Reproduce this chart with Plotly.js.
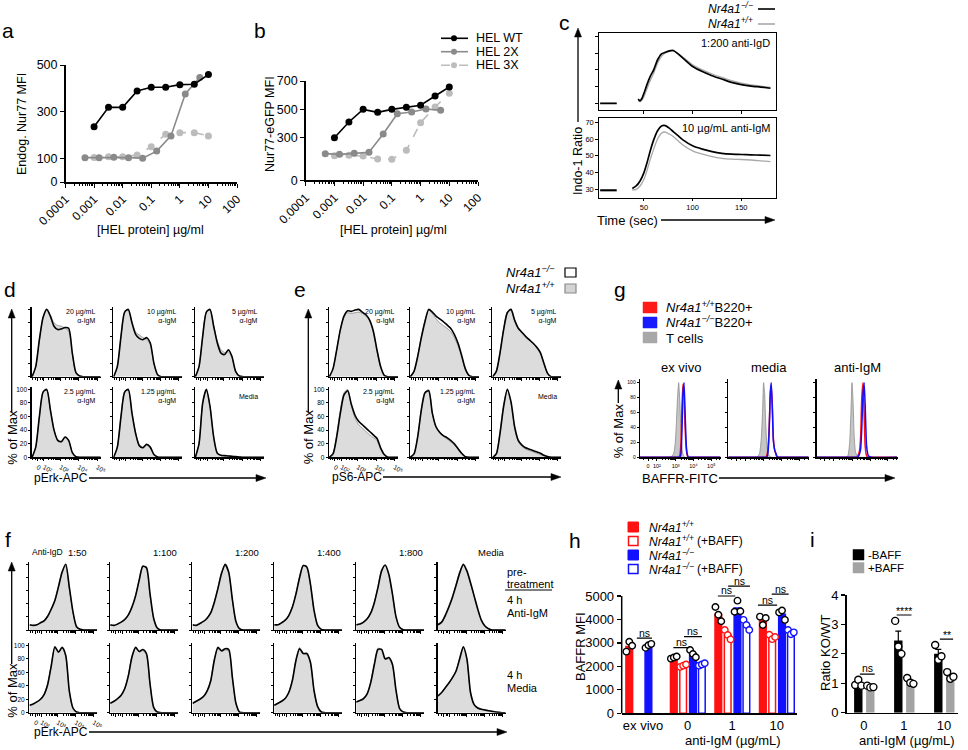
<!DOCTYPE html>
<html>
<head>
<meta charset="utf-8">
<script src="https://cdn.plot.ly/plotly-3.0.1.min.js"></script>
<style>html,body{margin:0;padding:0;background:#fff}#chart{width:968px;height:750px}</style>
</head>
<body>
<div id="chart"></div>
<script>
// ================= DATA =================
// a, b : HEL dose response
const helConcWT = [0.001, 0.0032, 0.01, 0.032, 0.1, 0.32, 1, 3.2, 10];
const helConc2X = [0.00048, 0.0015, 0.0049, 0.016, 0.05, 0.155, 0.49, 1.55, 5.0];
const helConc3X = [0.001, 0.0032, 0.01, 0.032, 0.1, 0.32, 1, 3.2, 10];
const helTickVals = [0.0001, 0.001, 0.01, 0.1, 1, 10, 100];
const helTickText = ['0.0001', '0.001', '0.01', '0.1', '1', '10', '100'];
const nur77WT = [236, 319, 319, 389, 405, 405, 416, 418, 459];
const nur77_2X = [104, 104, 106, 104, 102, 132, 197, 376, 447];
const nur77_3X = [105, 108, 108, 115, 151, 204, 211, 211, 197];
const gfpWT = [300, 411, 500, 479, 500, 515, 529, 594, 658];
const gfp2X = [188, 183, 190, 197, 326, 469, 481, 503, 493];
const gfp3X = [173, 176, 171, 150, 148, 211, 406, 517, 613];
const helNames = ['HEL WT', 'HEL 2X', 'HEL 3X'];

// c : calcium flux (Indo-1 ratio vs time)
const cTimeTop = [5, 22, 23, 44, 46, 48, 50, 53, 56, 60, 64, 68, 72, 76, 80, 85, 90, 100, 110, 120, 130, 140, 150, 160, 170, 180];
const cIgD_KO = [30, 30, null, 32.5, 31.5, 33, 36, 41, 45.5, 50, 56, 59.5, 60.5, 61.3, 61.5, 59.5, 57, 52, 49, 46.5, 44.5, 42.5, 41.2, 40.3, 39.7, 39];
const cIgD_WT = [30, 30, null, 31.5, 31, 32, 34, 38.5, 43, 48, 54, 58, 60, 61, 61.3, 59.8, 57.5, 53, 50, 47.5, 45.5, 43.5, 42, 41, 40.2, 39.5];
const cTimeBot = [5, 22, 23, 38, 42, 46, 50, 53, 56, 60, 64, 68, 72, 76, 80, 85, 90, 100, 110, 120, 130, 140, 150, 160, 170, 180];
const cIgM_KO = [29.5, 29.5, null, 30.5, 32, 35, 40, 45.5, 52, 59.5, 65, 67.8, 68, 66.5, 64.5, 62, 59.5, 56, 54, 52.5, 51.5, 51, 50.8, 50.6, 50.4, 50.2];
const cIgM_WT = [28.8, 28.8, null, 29.5, 30, 32, 36, 41, 47, 54, 60, 63.5, 64.2, 63, 61.5, 59, 56.5, 53, 51, 49.5, 48.5, 48, 47.8, 47.5, 47, 46.5];

// d, e, f : flow histograms (% of max) on a shared channel grid (log-like units)
const histGrid = [1.45, 1.65, 1.85, 2.05, 2.25, 2.45, 2.65, 2.85, 3.05, 3.25, 3.45, 3.65, 3.85, 4.05, 4.25, 4.45, 4.65, 4.85, 5.05, 5.2];
const histTickVals = [1.75, 2.1, 3, 4, 5];
const histTickText = ['0', '10²', '10³', '10⁴', '10⁵'];
const pctTicks = [0, 20, 40, 60, 80, 100];

const dLabels = ['20 µg/mL<br>α-IgM', '10 µg/mL<br>α-IgM', '5 µg/mL<br>α-IgM', '2.5 µg/mL<br>α-IgM', '1.25 µg/mL<br>α-IgM', 'Media'];
const dKO20 = [0,15,55,88,100,90,75,70,71,73,72,35,6,1,0,0,0,0,0,0];
const dWT20 = [0,15,55,88,100,91,80,76,75,72,68,33,5,1,0,0,0,0,0,0];
const dKO10 = [0,15,60,96,100,80,63,57,55,58,50,20,3,0,0,0,0,0,0,0];
const dWT10 = [0,15,60,96,99,81,66,62,58,55,48,19,3,0,0,0,0,0,0,0];
const dKO5 = [0,15,60,96,100,75,50,35,33,40,30,8,1,0,0,0,0,0,0,0];
const dWT5 = [0,15,60,96,99,76,53,40,36,37,28,7,1,0,0,0,0,0,0,0];
const dKO2p5 = [0,15,60,96,100,70,40,25,23,30,25,7,1,0,0,0,0,0,0,0];
const dWT2p5 = [0,15,60,96,99,70,41,26,24,29,24,7,1,0,0,0,0,0,0,0];
const dKO1p25 = [0,15,60,96,100,65,35,17,14,19,15,4,0.5,0,0,0,0,0,0,0];
const dWT1p25 = [0,15,61,97,99,66,36,19,15,18,14,4,0.5,0,0,0,0,0,0,0];
const dKOmed = [0,20,80,100,75,30,6,3,2.5,2,1.5,1,0.5,0,0,0,0,0,0,0];
const dWTmed = [0,20,80,99,74,29,6,2.5,2,1.5,1,0.5,0.3,0,0,0,0,0,0,0];

const eKO20 = [0,12,40,70,90,98,97,99,100,96,92,84,68,40,15,2,0,0,0,0];
const eWT20 = [0,12,40,70,89,95,94,95,96,94,90,83,66,38,14,2,0,0,0,0];
const eKO10 = [0,8,30,58,82,100,96,90,86,82,77,72,63,50,32,12,2,0,0,0];
const eWT10 = [0,8,31,60,84,99,94,86,80,76,72,67,58,46,29,11,2,0,0,0];
const eKO5 = [0,8,35,70,95,100,84,72,66,60,55,50,44,36,20,5,0,0,0,0];
const eWT5 = [0,8,36,72,96,99,83,71,65,59,54,49,43,35,19,5,0,0,0,0];
const eKO2p5 = [0,5,30,65,92,98,78,62,53,48,43,38,33,28,14,4,0,0,0,0];
const eWT2p5 = [0,6,33,70,95,100,76,58,48,43,38,33,29,25,12,3,0,0,0,0];
const eKO1p25 = [0,5,30,70,95,98,65,45,37,32,29,25,20,13,6,1,0,0,0,0];
const eWT1p25 = [0,5,31,71,96,100,64,44,36,31,27,23,18,12,5,1,0,0,0,0];
const eKOmed = [0,5,35,75,100,82,45,25,18,14,12,10,8,6,3,1,0,0,0,0];
const eWTmed = [0,6,38,78,99,80,43,23,16,12,10,8,6,4,2,1,0,0,0,0];

const fColTitles = ['1:100', '1:200', '1:400', '1:800', 'Media'];
const fTopKO50 = [8,7,8,11,14,21,32,45,66,88,100,65,28,5,1,0,0,0,0,0];
const fTopWT50 = [7,7,8,11,15,22,33,47,68,90,97,62,26,5,1,0,0,0,0,0];
const fTopKO100 = [8,7,9,12,16,23,35,52,76,97,95,55,18,3,0,0,0,0,0,0];
const fTopWT100 = [7,7,9,12,17,24,37,54,78,98,93,52,17,3,0,0,0,0,0,0];
const fTopKO200 = [8,7,10,13,18,26,42,63,86,100,88,47,13,2,0,0,0,0,0,0];
const fTopWT200 = [7,7,10,13,19,27,44,65,88,98,86,45,12,2,0,0,0,0,0,0];
const fTopKO400 = [8,8,11,15,22,35,55,80,98,96,70,30,7,1,0,0,0,0,0,0];
const fTopWT400 = [7,8,11,15,23,36,57,82,99,94,68,28,6,1,0,0,0,0,0,0];
const fTopKO800 = [8,9,12,17,26,42,65,90,99,85,55,20,4,0.5,0,0,0,0,0,0];
const fTopWT800 = [7,9,12,17,27,43,67,92,98,83,53,19,4,0.5,0,0,0,0,0,0];
const fTopKOmed = [8,12,22,35,50,68,87,100,90,72,52,32,15,6,2,0,0,0,0,0];
const fTopWTmed = [9,13,24,37,52,70,89,99,88,70,50,30,14,5,2,0,0,0,0,0];
const fBotKO50 = [11,13,16,20,27,42,70,98,90,97,85,32,7,1,0,0,0,0,0,0];
const fBotWT50 = [11,13,16,20,28,44,72,97,91,96,84,31,7,1,0,0,0,0,0,0];
const fBotKO100 = [14,17,21,26,36,55,83,97,91,94,88,43,8,1,0,0,0,0,0,0];
const fBotWT100 = [14,17,21,27,37,57,85,96,90,92,86,41,8,1,0,0,0,0,0,0];
const fBotKO200 = [14,17,20,24,32,47,78,97,92,95,94,53,14,1,0,0,0,0,0,0];
const fBotWT200 = [14,17,20,25,33,49,80,95,91,93,92,52,13,1,0,0,0,0,0,0];
const fBotKO400 = [11,14,17,21,30,48,78,95,88,88,75,33,9,1,0,0,0,0,0,0];
const fBotWT400 = [11,14,17,22,31,50,80,97,87,86,73,32,9,1,0,0,0,0,0,0];
const fBotKO800 = [16,18,21,28,45,72,94,94,80,82,72,33,6,1,0,0,0,0,0,0];
const fBotWT800 = [16,18,22,29,47,74,96,93,79,80,70,32,6,1,0,0,0,0,0,0];
const fBotKOmed = [25,30,37,44,52,62,80,98,80,30,12,7,5,4,3,2,1,0.5,0,0];
const fBotWTmed = [24,30,37,44,53,63,82,97,78,29,12,7,5,4,3,2,1,0.5,0,0];

// g : BAFFR histograms
const gGrid = [1.0, 2.6, 2.75, 2.85, 2.92, 2.98, 3.04, 3.1, 3.17, 3.24, 3.3, 3.36, 3.41, 3.47, 3.53, 3.6, 3.66, 3.72, 3.8, 3.9, 4.05, 5.5];
const gTickVals = [1.45, 1.95, 3, 4, 5];
const gTitles = ['ex vivo', 'media', 'anti-IgM'];
const gExT  = [0,0,1,3,8,20,45,78,100,72,32,11,4,1,0,0,0,0,0,0,0,0];
const gExWT = [0,0,0,0,0,0,0,0,0,3,20,70,98,85,40,10,2,0,0,0,0,0];
const gExKO = [0,0,0,0,0,0,0,0,0,0,5,40,85,100,60,15,3,0,0,0,0,0];
const gMdT  = [0,0,5,25,60,100,85,45,15,5,2,1,0.5,0,0,0,0,0,0,0,0,0];
const gMdWT = [0,0,0,0,0,0,0,0,3,15,45,85,97,70,25,10,5,1,0,0,0,0];
const gMdKO = [0,0,0,0,0,0,0,0,0,10,40,88,100,65,22,10,6,2,0,0,0,0];
const gAmT  = [0,0,2,20,60,100,75,30,8,3,1,0,0,0,0,0,0,0,0,0,0,0];
const gAmWT = [0,0,0,0,0,0,0,0,0,0,2,5,10,30,80,100,60,15,2,0,0,0];
const gAmKO = [0,0,0,0,0,0,0,0,0,0,0,2,5,12,40,85,100,70,15,2,0,0];

// h : BAFFR MFI
const hGroups = ['ex vivo', '0', '1', '10'];
const hTicks = [0, 1000, 2000, 3000, 4000, 5000];
const hWT = [2850, 2380, 4210, 3980];
const hWTpts = [[2630, 3050, 2880], [2330, 2380, 2420], [4530, 4200, 3920], [4120, 3760, 4060]];
const hWTBAFF = [null, 2030, 3350, 3250];
const hWTBAFFpts = [[], [1980, 2030, 2080], [3550, 3340, 3150], [3350, 3160, 3250]];
const hKO = [2900, 2540, 4490, 4220];
const hKOpts = [[2790, 2900, 2960], [2700, 2530, 2390], [4330, 4800, 4350], [4300, 4380, 3980]];
const hKOBAFF = [null, 2080, 3760, 3460];
const hKOBAFFpts = [[], [2030, 2080, 2130], [3980, 3760, 3550], [3550, 3370, 3450]];

// i : ratio KO/WT
const iGroups = ['0', '1', '10'];
const iMinus = [0.99, 2.45, 2.0];
const iMinusSEM = [0.07, 0.32, 0.15];
const iMinusPts = [[0.94, 1.12, 0.92], [3.12, 2.25, 2.0], [2.3, 1.8, 1.92]];
const iPlus = [0.88, 1.06, 1.25];
const iPlusSEM = [0.03, 0.05, 0.07];
const iPlusPts = [[0.92, 0.86, 0.87], [1.18, 1.02, 0.98], [1.38, 1.15, 1.22]];

// ================= FIGURE =================
const W = 968, H = 750;
const FONT = 'Arial, "Liberation Sans", Helvetica, sans-serif';
const px = v => v / W;
const py = v => 1 - v / H;
const traces = [];
const L = {width: W, height: H, margin: {l: 0, r: 0, t: 0, b: 0, pad: 0},
  paper_bgcolor: '#ffffff', plot_bgcolor: 'rgba(0,0,0,0)', showlegend: false,
  hovermode: false, font: {family: FONT, color: '#000'}, annotations: [], shapes: []};

let nAx = 0;
function axes(l, t, r, b, xo, yo) {
  nAx++;
  const s = nAx === 1 ? '' : String(nAx);
  const base = {showline: true, linecolor: '#000', linewidth: 1.2, ticks: 'outside', tickcolor: '#000',
    tickwidth: 1, ticklen: 3, showgrid: false, zeroline: false, fixedrange: true,
    tickfont: {family: FONT, size: 7, color: '#000'}};
  L['xaxis' + s] = Object.assign({}, base, {domain: [px(l), px(r)], anchor: 'y' + s}, xo);
  L['yaxis' + s] = Object.assign({}, base, {domain: [py(b), py(t)], anchor: 'x' + s}, yo);
  return {xaxis: 'x' + s, yaxis: 'y' + s};
}
function txt(x, y, s, size, o) {
  L.annotations.push(Object.assign({xref: 'paper', yref: 'paper', x: px(x), y: py(y), text: s,
    showarrow: false, xanchor: 'center', yanchor: 'middle',
    font: {family: FONT, size: size, color: '#000'}}, o || {}));
}
function seg(x0, y0, x1, y1, color, width, dash) {
  L.shapes.push({type: 'line', xref: 'paper', yref: 'paper', x0: px(x0), y0: py(y0), x1: px(x1), y1: py(y1),
    line: {color: color || '#000', width: width || 1.2, dash: dash || 'solid'}});
}
function arrowUp(x, yTail, yHead) {
  seg(x, yTail, x, yHead + 5, '#000', 1.3);
  L.shapes.push({type: 'path', xref: 'paper', yref: 'paper', fillcolor: '#000', line: {color: '#000', width: 0.5},
    path: `M ${px(x)} ${py(yHead)} L ${px(x - 3.5)} ${py(yHead + 9)} L ${px(x + 3.5)} ${py(yHead + 9)} Z`});
}
function arrowRight(xTail, xHead, y) {
  seg(xTail, y, xHead - 5, y, '#000', 1.3);
  L.shapes.push({type: 'path', xref: 'paper', yref: 'paper', fillcolor: '#000', line: {color: '#000', width: 0.5},
    path: `M ${px(xHead)} ${py(y)} L ${px(xHead - 10)} ${py(y - 3.5)} L ${px(xHead - 10)} ${py(y + 3.5)} Z`});
}
function box(x0, y0, x1, y1, fill, lineColor, lw) {
  L.shapes.push({type: 'rect', xref: 'paper', yref: 'paper', x0: px(x0), y0: py(y0), x1: px(x1), y1: py(y1),
    fillcolor: fill, line: {color: lineColor, width: lw || 1}});
}

// ---------- panel labels ----------
[['a', 8, 30], ['b', 260, 30], ['c', 564, 23], ['d', 10, 289], ['e', 300, 289], ['f', 8, 539],
 ['g', 620, 289], ['h', 575, 540], ['i', 812, 539]].forEach(p => txt(p[1], p[2], p[0], 21));

// ---------- a & b ----------
const helMinor = [];
for (let d = -4; d < 2; d++) for (let k = 2; k <= 9; k++) helMinor.push(k * Math.pow(10, d));
function helX() {
  return {type: 'log', range: [-4, 2], tickmode: 'array', tickvals: helTickVals, ticktext: helTickText,
    tickangle: -45, tickfont: {family: FONT, size: 12, color: '#000'}, ticklen: 4, linewidth: 1.5,
    minor: {tickvals: helMinor, ticklen: 2.5, ticks: 'outside', tickcolor: '#000'}};
}
const cWT = '#000000', c2X = '#8a8a8a', c3X = '#bcbcbc';
function doseTrace(ax, x, y, color, dash) {
  traces.push({type: 'scatter', mode: 'lines+markers', x: x, y: y, xaxis: ax.xaxis, yaxis: ax.yaxis,
    line: {color: color, width: 1.6, dash: dash}, marker: {color: color, size: 7}, cliponaxis: false});
}
const A = axes(65.5, 65, 237, 182, helX(), {range: [0, 500], tickvals: [0, 100, 300, 500],
  tickfont: {family: FONT, size: 12.5, color: '#000'}, ticklen: 4, linewidth: 1.5});
doseTrace(A, helConc3X, nur77_3X, c3X, 'dash');
doseTrace(A, helConc2X, nur77_2X, c2X, 'solid');
doseTrace(A, helConcWT, nur77WT, cWT, 'solid');
txt(22, 124, 'Endog. Nur77 MFI', 12.5, {textangle: -90});
txt(150, 230, '[HEL protein] µg/ml', 12.5);

const B = axes(305.7, 81, 478, 180.3, helX(), {range: [0, 700], tickvals: [0, 300, 500, 700],
  tickfont: {family: FONT, size: 12.5, color: '#000'}, ticklen: 4, linewidth: 1.5});
doseTrace(B, helConc3X, gfp3X, c3X, 'dash');
doseTrace(B, helConc2X, gfp2X, c2X, 'solid');
doseTrace(B, helConcWT, gfpWT, cWT, 'solid');
txt(270, 124, 'Nur77-eGFP MFI', 12.5, {textangle: -90});
txt(393, 230, '[HEL protein] µg/ml', 12.5);
// legend b
[[cWT, 'solid', 38.3], [c2X, 'solid', 51.7], [c3X, 'dash', 65.3]].forEach((e, k) => {
  seg(441, e[2], 468, e[2], e[0], 1.6, e[1]);
  L.shapes.push({type: 'circle', xref: 'paper', yref: 'paper', x0: px(451), x1: px(457), y0: py(e[2] + 3), y1: py(e[2] - 3),
    fillcolor: e[0], line: {color: e[0], width: 0}});
  txt(474, e[2], helNames[k], 12.5, {xanchor: 'left'});
});

// ---------- c ----------
const cLine = {ko: {color: '#000', width: 1.7, shape: 'spline', smoothing: 0.6}, wt: {color: '#a8a8a8', width: 1.3, shape: 'spline', smoothing: 0.6}};
const C1 = axes(599, 33.3, 776, 110, {range: [3.8, 185.7], tickvals: [50, 100, 150], showticklabels: false, mirror: true, ticklen: 2.5},
  {range: [26, 71.8], tickvals: [30, 40, 50, 60, 70], showticklabels: false, mirror: true, ticklen: 2.5});
traces.push({type: 'scatter', mode: 'lines', x: cTimeTop, y: cIgD_WT, xaxis: C1.xaxis, yaxis: C1.yaxis, line: cLine.wt});
traces.push({type: 'scatter', mode: 'lines', x: cTimeTop, y: cIgD_KO, xaxis: C1.xaxis, yaxis: C1.yaxis, line: cLine.ko});
const C2 = axes(599, 118.3, 776, 197.7, {range: [3.8, 185.7], tickvals: [50, 100, 150], mirror: true, ticklen: 2.5,
  tickfont: {family: FONT, size: 7.5, color: '#000'}},
  {range: [25, 72.4], tickvals: [30, 40, 50, 60, 70], mirror: true, ticklen: 2.5, tickfont: {family: FONT, size: 7.5, color: '#000'}});
traces.push({type: 'scatter', mode: 'lines', x: cTimeBot, y: cIgM_WT, xaxis: C2.xaxis, yaxis: C2.yaxis, line: cLine.wt});
traces.push({type: 'scatter', mode: 'lines', x: cTimeBot, y: cIgM_KO, xaxis: C2.xaxis, yaxis: C2.yaxis, line: cLine.ko});
txt(772, 43, '1:200 anti-IgD', 11, {xanchor: 'right'});
txt(772, 128, '10 µg/mL anti-IgM', 11, {xanchor: 'right'});
arrowUp(578, 122, 28);
txt(578, 161, 'Indo-1 Ratio', 12.5, {textangle: -90});
txt(595, 220, 'Time (sec)', 13, {xanchor: 'left'});
arrowRight(661, 775, 220);
txt(755, 8, '<i>Nr4a1<sup>−/−</sup></i>', 12, {xanchor: 'right'});
txt(755, 23, '<i>Nr4a1<sup>+/+</sup></i>', 12, {xanchor: 'right'});
seg(758, 9, 775, 9, '#000', 1.6);
seg(758, 24, 775, 24, '#a8a8a8', 1.6);

// ---------- histogram helpers ----------
const histMinor = [];
[[2.1, 3], [3, 4], [4, 5]].forEach(d => { for (let k = 2; k <= 9; k++) histMinor.push(d[0] + Math.log10(k) * (d[1] - d[0])); });
histMinor.push(1.5, 1.62, 1.9, 2.0);
function histAxes(l, t, r, b, showX, showY, xr, tv, minor, yfs) {
  return axes(l, t, r, b,
    {range: xr, tickmode: 'array', tickvals: tv, ticktext: histTickText, showticklabels: showX, ticklen: 2.5,
      linewidth: 1.3, tickfont: {family: FONT, size: 6.5, color: '#000'},
      minor: {tickvals: minor, ticklen: 1.5, ticks: 'outside', tickcolor: '#000'}},
    {range: [0, 104], tickvals: pctTicks, showticklabels: showY, ticklen: 2, linewidth: 1.3,
      tickfont: {family: FONT, size: yfs || 6.5, color: '#000'}});
}
function hist(ax, grid, wt, ko) {
  traces.push({type: 'scatter', mode: 'lines', x: grid, y: wt, xaxis: ax.xaxis, yaxis: ax.yaxis, fill: 'tozeroy',
    fillcolor: '#dcdcdc', line: {color: '#9a9a9a', width: 1, shape: 'spline', smoothing: 0.7}});
  traces.push({type: 'scatter', mode: 'lines', x: grid, y: ko, xaxis: ax.xaxis, yaxis: ax.yaxis,
    line: {color: '#000', width: 1.6, shape: 'spline', smoothing: 0.7}});
}
const histRange = [1.43, 5.2];
const dfRows = [[306.7, 376.7], [386.7, 457.3]];

// ---------- d ----------
const dCols = [[31.7, 100.7], [113.3, 182.3], [195, 264]];
const dSets = [[dWT20, dKO20], [dWT10, dKO10], [dWT5, dKO5], [dWT2p5, dKO2p5], [dWT1p25, dKO1p25], [dWTmed, dKOmed]];
dSets.forEach((s, k) => {
  const c = dCols[k % 3], r = dfRows[Math.floor(k / 3)];
  const bl = (k === 3);
  const ax = histAxes(c[0], r[0], c[1], r[1], bl, bl, histRange, histTickVals, histMinor);
  hist(ax, histGrid, s[0], s[1]);
  txt(c[1] - 4, r[0] + 10, dLabels[k], 7, {xanchor: 'right', align: 'right'});
});
arrowUp(11.7, 412, 309);
txt(11.7, 437, '% of Max', 13, {textangle: -90});
txt(32, 478, 'pErk-APC', 12, {xanchor: 'left'});
arrowRight(89, 266, 478);

// ---------- e ----------
const eCols = [[329, 398], [410, 479], [492.3, 561.3]];
const eSets = [[eWT20, eKO20], [eWT10, eKO10], [eWT5, eKO5], [eWT2p5, eKO2p5], [eWT1p25, eKO1p25], [eWTmed, eKOmed]];
eSets.forEach((s, k) => {
  const c = eCols[k % 3], r = dfRows[Math.floor(k / 3)];
  const bl = (k === 3);
  const ax = histAxes(c[0], r[0], c[1], r[1], bl, bl, histRange, histTickVals, histMinor);
  hist(ax, histGrid, s[0], s[1]);
  txt(c[1] - 2, r[0] + 10, dLabels[k], 7, {xanchor: 'right', align: 'right'});
});
arrowUp(308.3, 412, 309);
txt(308.3, 437, '% of Max', 13, {textangle: -90});
txt(330, 477, 'pS6-APC', 12, {xanchor: 'left'});
arrowRight(383, 561, 477);
txt(557, 272, '<i>Nr4a1<sup>−/−</sup></i>', 13, {xanchor: 'right'});
txt(557, 288, '<i>Nr4a1<sup>+/+</sup></i>', 13, {xanchor: 'right'});
box(565, 268, 576, 277, '#ffffff', '#000', 1.2);
box(565, 284, 576, 293, '#d4d4d4', '#8a8a8a', 1.2);

// ---------- f ----------
const fCols = [[29.3, 97.3], [110, 178], [192.3, 260.3], [274, 342], [356, 424], [437.7, 505.7]];
const fRows = [[561.7, 630], [642.7, 712.7]];
const fTop = [[fTopWT50, fTopKO50], [fTopWT100, fTopKO100], [fTopWT200, fTopKO200], [fTopWT400, fTopKO400], [fTopWT800, fTopKO800], [fTopWTmed, fTopKOmed]];
const fBot = [[fBotWT50, fBotKO50], [fBotWT100, fBotKO100], [fBotWT200, fBotKO200], [fBotWT400, fBotKO400], [fBotWT800, fBotKO800], [fBotWTmed, fBotKOmed]];
[fTop, fBot].forEach((row, ri) => {
  row.forEach((s, k) => {
    const c = fCols[k], r = fRows[ri];
    const bl = (ri === 1 && k === 0);
    const ax = histAxes(c[0], r[0], c[1], r[1], bl, bl, histRange, histTickVals, histMinor);
    hist(ax, histGrid, s[0], s[1]);
  });
});
txt(30, 552, 'Anti-IgD', 8.5, {xanchor: 'left'});
txt(66, 552, '1:50', 9.5, {xanchor: 'left'});
fColTitles.forEach((t, k) => txt(fCols[k + 1][1] + 1, 552, t, 9.5, {xanchor: 'right'}));
txt(505, 572, 'pre-', 11, {xanchor: 'left'});
txt(505, 584, 'treatment', 11, {xanchor: 'left'});
seg(505, 590, 552, 590, '#000', 1);
txt(505, 600, '4 h', 11, {xanchor: 'left'});
txt(505, 613, 'Anti-IgM', 11, {xanchor: 'left'});
txt(505, 675, '4 h', 11, {xanchor: 'left'});
txt(505, 688, 'Media', 11, {xanchor: 'left'});
arrowUp(11.7, 664, 562);
txt(11.7, 690, '% of Max', 13, {textangle: -90});
txt(32, 732, 'pErk-APC', 12, {xanchor: 'left'});
arrowRight(89, 507, 732);

// ---------- g ----------
const gMinor = [];
[[1.95, 3], [3, 4], [4, 5]].forEach(d => { for (let k = 2; k <= 9; k++) gMinor.push(d[0] + Math.log10(k) * (d[1] - d[0])); });
for (let k = 2; k <= 3; k++) gMinor.push(5 + Math.log10(k));
gMinor.push(1.2, 1.7);
const gCols = [[640, 721], [728.3, 809.3], [816.7, 897.7]];
const gSets = [[gExT, gExWT, gExKO], [gMdT, gMdWT, gMdKO], [gAmT, gAmWT, gAmKO]];
gSets.forEach((s, k) => {
  const c = gCols[k];
  const ax = axes(c[0], 379.3, c[1], 457.3,
    {range: [1.0, 5.545], tickmode: 'array', tickvals: gTickVals, ticktext: histTickText, showticklabels: k === 0,
      ticklen: 2.5, linewidth: 1.3, tickfont: {family: FONT, size: 5.5, color: '#000'},
      minor: {tickvals: gMinor, ticklen: 1.5, ticks: 'outside', tickcolor: '#000'}},
    {range: [0, 104.5], tickvals: pctTicks, showticklabels: k === 0, ticklen: 2, linewidth: 1.3,
      tickfont: {family: FONT, size: 5, color: '#000'}});
  traces.push({type: 'scatter', mode: 'lines', x: gGrid, y: s[0], xaxis: ax.xaxis, yaxis: ax.yaxis, fill: 'tozeroy',
    fillcolor: '#c6c6c6', line: {color: '#8c8c8c', width: 0.8, shape: 'spline', smoothing: 0.5}});
  traces.push({type: 'scatter', mode: 'lines', x: gGrid, y: s[1], xaxis: ax.xaxis, yaxis: ax.yaxis,
    line: {color: '#ff1010', width: 1.5, shape: 'spline', smoothing: 0.5}});
  traces.push({type: 'scatter', mode: 'lines', x: gGrid, y: s[2], xaxis: ax.xaxis, yaxis: ax.yaxis,
    line: {color: '#1010ff', width: 1.5, shape: 'spline', smoothing: 0.5}});
  txt((c[0] + c[1]) / 2, 368, gTitles[k], 13);
});
box(643, 302, 657, 313, '#ff1a1a', '#ff1a1a', 0.5);
box(643, 317, 657, 328, '#1a1aff', '#1a1aff', 0.5);
box(643, 332, 657, 343, '#a8a8a8', '#a8a8a8', 0.5);
txt(664, 307.5, '<i>Nr4a1<sup>+/+</sup></i>B220+', 13, {xanchor: 'left'});
txt(664, 322.5, '<i>Nr4a1<sup>−/−</sup></i>B220+', 13, {xanchor: 'left'});
txt(664, 338, 'T cells', 13, {xanchor: 'left'});
txt(618.3, 431, '% of Max', 13, {textangle: -90});
arrowUp(618.3, 403, 380);
txt(640, 478, 'BAFFR-FITC', 13, {xanchor: 'left'});
arrowRight(719, 895, 478);

// ---------- h ----------
const hOff = [-0.31, -0.1, 0.12, 0.32];
const jit = [-0.065, 0, 0.065];
const redC = '#ff1111', blueC = '#1111ff';
const H_ax = axes(621.7, 581.9, 796.7, 713.3,
  {range: [-0.48, 3.45], tickmode: 'array', tickvals: [0, 1, 2, 3], ticktext: hGroups, ticks: '', linewidth: 1.5,
    tickfont: {family: FONT, size: 13, color: '#000'}},
  {range: [0, 5600], tickvals: hTicks, showline: false, ticklen: 4, tickwidth: 1.3,
    tickfont: {family: FONT, size: 13, color: '#000'}});
seg(621.7, 713.3, 621.7, 596, '#000', 1.5);
const hSeries = [
  [hWT, hWTpts, redC, redC, '#000'],
  [hWTBAFF, hWTBAFFpts, '#ffffff', redC, redC],
  [hKO, hKOpts, blueC, blueC, '#000'],
  [hKOBAFF, hKOBAFFpts, '#ffffff', blueC, blueC]];
hSeries.forEach((s, k) => {
  const xs = hGroups.map((g, gi) => gi + hOff[k]);
  traces.push({type: 'bar', x: xs, y: s[0], width: 0.15, xaxis: H_ax.xaxis, yaxis: H_ax.yaxis,
    marker: {color: s[2], line: {color: s[3], width: 1.5}}});
});
hSeries.forEach((s, k) => {
  const dx = [], dy = [];
  s[1].forEach((pts, gi) => pts.forEach((v, j) => { dx.push(gi + hOff[k] + jit[j]); dy.push(v); }));
  traces.push({type: 'scatter', mode: 'markers', x: dx, y: dy, xaxis: H_ax.xaxis, yaxis: H_ax.yaxis, cliponaxis: false,
    marker: {symbol: 'circle', size: 6.5, color: '#ffffff', line: {color: s[4], width: 1.4}}});
});
// significance lines (group, x0 offset, x1 offset, y)
const hSig = [[0, -0.14, 0.2, 3200], [1, -0.32, 0.04, 2800], [1, -0.08, 0.32, 3270], [2, -0.32, 0.07, 5000],
  [2, -0.09, 0.4, 5420], [3, -0.42, 0.01, 4610], [3, -0.11, 0.27, 5080]];
hSig.forEach(s => {
  L.shapes.push({type: 'line', xref: H_ax.xaxis, yref: H_ax.yaxis, x0: s[0] + s[1], x1: s[0] + s[2], y0: s[3], y1: s[3],
    line: {color: '#000', width: 1.2}});
  L.annotations.push({xref: H_ax.xaxis, yref: H_ax.yaxis, x: s[0] + (s[1] + s[2]) / 2, y: s[3], yshift: 5.5, text: 'ns',
    showarrow: false, font: {family: FONT, size: 10.5, color: '#000'}});
});
txt(580, 647, 'BAFFR MFI', 13, {textangle: -90});
txt(733, 740, 'anti-IgM (µg/mL)', 13);
// h legend
box(628, 522, 638.5, 532, redC, redC, 1);
box(628.5, 536.5, 638, 545.5, '#ffffff', redC, 1.5);
box(628, 550, 638.5, 560, blueC, blueC, 1);
box(628.5, 564.5, 638, 573.5, '#ffffff', blueC, 1.5);
txt(646.5, 527, '<i>Nr4a1<sup>+/+</sup></i>', 12, {xanchor: 'left'});
txt(646.5, 541, '<i>Nr4a1<sup>+/+</sup></i>', 12, {xanchor: 'left'});
txt(695, 541, '(+BAFF)', 12, {xanchor: 'left'});
txt(646.5, 555, '<i>Nr4a1<sup>−/−</sup></i>', 12, {xanchor: 'left'});
txt(646.5, 569, '<i>Nr4a1<sup>−/−</sup></i>', 12, {xanchor: 'left'});
txt(695, 569, '(+BAFF)', 12, {xanchor: 'left'});

// ---------- i ----------
const iOff = [-0.14, 0.16];
const I_ax = axes(846.7, 595, 958.3, 712.7,
  {range: [-0.43, 2.36], tickmode: 'array', tickvals: [0, 1, 2], ticktext: iGroups, ticks: '', linewidth: 1.5,
    tickfont: {family: FONT, size: 13, color: '#000'}},
  {range: [0, 4], tickvals: [0, 1, 2, 3, 4], ticklen: 4, linewidth: 1.5, tickwidth: 1.3,
    tickfont: {family: FONT, size: 13, color: '#000'}});
[[iMinus, iMinusSEM, iMinusPts, '#000000'], [iPlus, iPlusSEM, iPlusPts, '#a3a3a3']].forEach((s, k) => {
  traces.push({type: 'bar', x: iGroups.map((g, gi) => gi + iOff[k]), y: s[0], width: 0.21, xaxis: I_ax.xaxis, yaxis: I_ax.yaxis,
    marker: {color: s[3], line: {width: 0}},
    error_y: {type: 'data', array: s[1], visible: true, color: '#000', thickness: 1.2, width: 3}});
});
[[iMinusPts], [iPlusPts]].forEach((s, k) => {
  const dx = [], dy = [];
  s[0].forEach((pts, gi) => pts.forEach((v, j) => { dx.push(gi + iOff[k] + jit[j] * 1.2); dy.push(v); }));
  traces.push({type: 'scatter', mode: 'markers', x: dx, y: dy, xaxis: I_ax.xaxis, yaxis: I_ax.yaxis, cliponaxis: false,
    marker: {symbol: 'circle', size: 7, color: '#ffffff', line: {color: '#000', width: 1.4}}});
});
const iSig = [[0, -0.1, 0.27, 1.31, 'ns'], [1, -0.18, 0.19, 3.32, '****'], [2, -0.1, 0.23, 2.5, '**']];
iSig.forEach(s => {
  L.shapes.push({type: 'line', xref: I_ax.xaxis, yref: I_ax.yaxis, x0: s[0] + s[1], x1: s[0] + s[2], y0: s[3], y1: s[3],
    line: {color: '#000', width: 1.2}});
  L.annotations.push({xref: I_ax.xaxis, yref: I_ax.yaxis, x: s[0] + (s[1] + s[2]) / 2, y: s[3], yshift: s[4] === 'ns' ? 6 : 4,
    text: s[4], showarrow: false, font: {family: FONT, size: 10.5, color: '#000'}});
});
txt(825, 653, 'Ratio KO/WT', 13, {textangle: -90});
txt(907, 740, 'anti-IgM (µg/mL)', 13);
box(853, 549.5, 864, 560, '#000000', '#000000', 0.5);
box(853, 562.5, 864, 573, '#a3a3a3', '#a3a3a3', 0.5);
txt(866, 555, '-BAFF', 11.5, {xanchor: 'left'});
txt(866, 568, '+BAFF', 11.5, {xanchor: 'left'});

L.barmode = 'overlay';
Plotly.newPlot('chart', traces, L, {displayModeBar: false, staticPlot: true});
</script>
</body>
</html>
